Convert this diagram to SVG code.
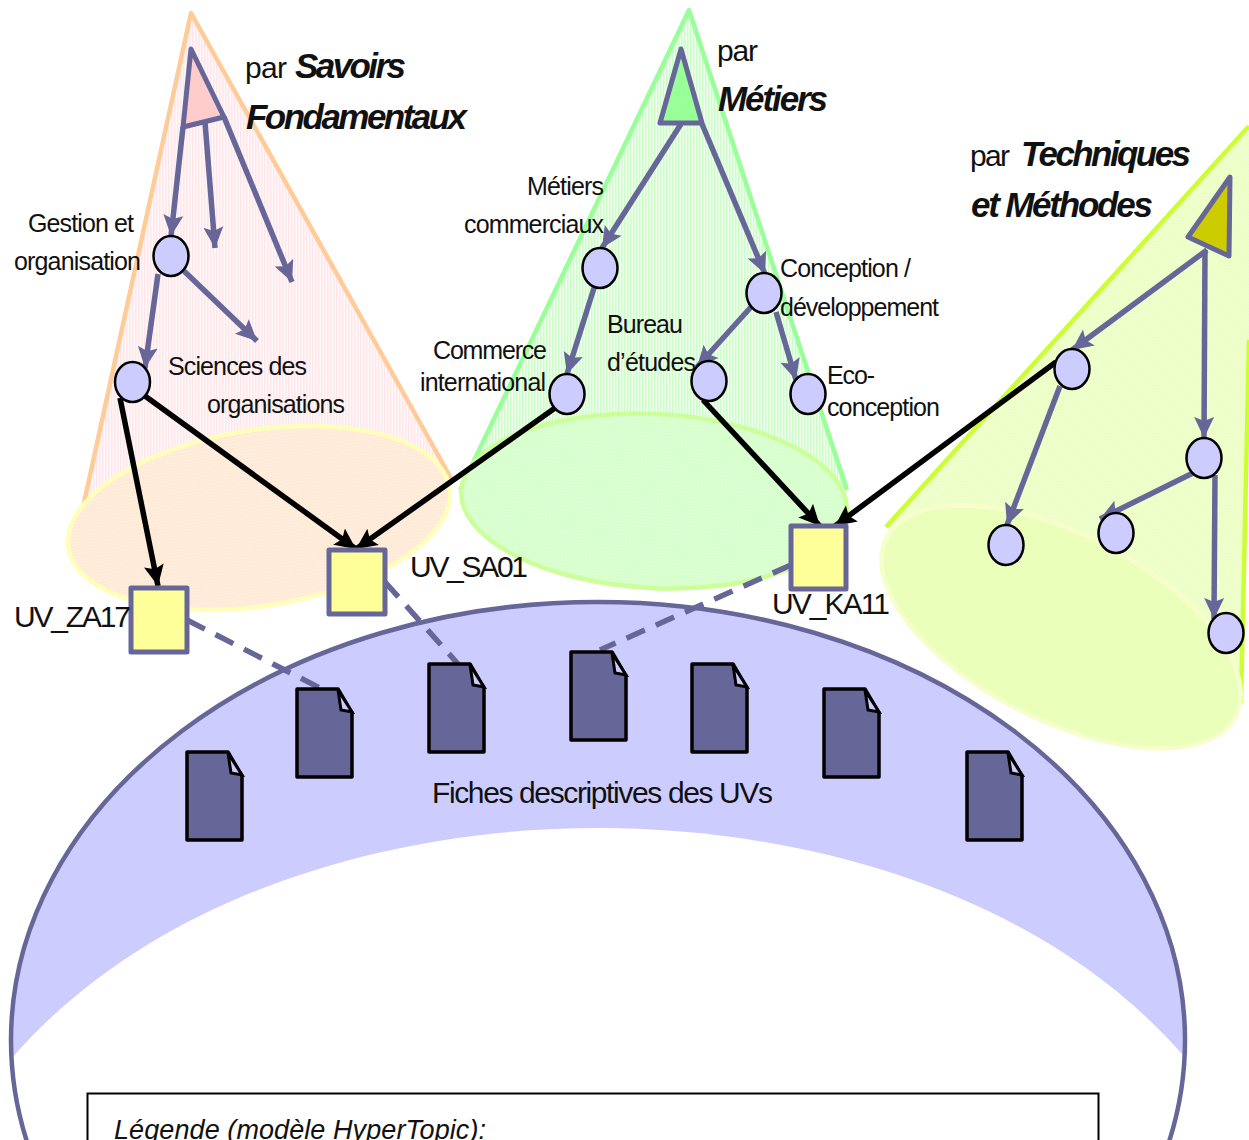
<svg xmlns="http://www.w3.org/2000/svg" width="1249" height="1140" viewBox="0 0 1249 1140">
<style>
text{font-family:"Liberation Sans",Arial,sans-serif;fill:#111}
.t{font-size:25px}
.u{font-size:30px}
.b{font-size:35px;font-weight:bold;font-style:italic}
.n{fill:#ccccff;stroke:#000;stroke-width:2.5}
.tr{stroke:#666699;stroke-width:5;stroke-linejoin:round}
.s{fill:#ffff99;stroke:#666699;stroke-width:5;stroke-linejoin:round}
.p{stroke:#666699;stroke-width:5.5;fill:none;marker-end:url(#ap)}
.k{stroke:#000;stroke-width:5.5;fill:none;marker-end:url(#ak)}
.d{stroke:#666699;stroke-width:5.5;fill:none;stroke-dasharray:20 12}
.doc{fill:#666699;stroke:#000;stroke-width:3.5;stroke-linejoin:round}
</style>
<defs>
<marker id="ap" markerUnits="userSpaceOnUse" markerWidth="24" markerHeight="24" refX="21" refY="12" orient="auto"><path d="M0 2L21 12L0 22L4 12Z" fill="#666699"/></marker>
<marker id="ak" markerUnits="userSpaceOnUse" markerWidth="24" markerHeight="24" refX="21" refY="12" orient="auto"><path d="M0 2L21 12L0 22L4 12Z" fill="#000"/></marker>
<pattern id="h1" width="3" height="3" patternUnits="userSpaceOnUse"><rect width="3" height="3" fill="#fff8f8"/><rect width="1.5" height="3" fill="#ffe6ea"/></pattern>
<pattern id="h2" width="3" height="3" patternUnits="userSpaceOnUse"><rect width="3" height="3" fill="#f2fff0"/><rect width="1.5" height="3" fill="#ccffc8"/></pattern>
<pattern id="h3" width="3" height="3" patternUnits="userSpaceOnUse"><rect width="3" height="3" fill="#f4ffd8"/><path d="M0 3L3 0" stroke="#e8ffbe" stroke-width="1.4"/></pattern>
<pattern id="e1" width="3" height="3" patternUnits="userSpaceOnUse"><rect width="3" height="3" fill="#ffeedd"/><circle cx="1.5" cy="1.5" r=".8" fill="#ffe3cc"/></pattern>
<pattern id="e2" width="3" height="3" patternUnits="userSpaceOnUse"><rect width="3" height="3" fill="#d6ffcc"/><circle cx="1.5" cy="1.5" r=".8" fill="#e6ffdd"/></pattern>
<pattern id="e3" width="3" height="3" patternUnits="userSpaceOnUse"><rect width="3" height="3" fill="#e8ffb4"/><circle cx="1.5" cy="1.5" r=".8" fill="#f4ffd4"/></pattern>
<clipPath id="oc"><ellipse cx="598" cy="1040" rx="587" ry="438"/></clipPath>
<path id="docp" d="M0 0H41L55 24V88H0Z"/>
</defs>

<g id="cone-savoirs">
<path d="M191 13L82 512L452 480Z" fill="url(#h1)"/>
<path d="M82 512L191 13L452 480" fill="none" stroke="#ffcc99" stroke-width="4.5" stroke-linejoin="round"/>
<ellipse cx="259" cy="518" rx="193" ry="88" transform="rotate(-9 259 518)" fill="url(#e1)" stroke="#ffffbb" stroke-width="4.5"/>
</g>
<g id="cone-metiers">
<path d="M689 10L460 490L847 490Z" fill="url(#h2)"/>
<path d="M460 490L689 10L847 490" fill="none" stroke="#99ff99" stroke-width="4.5" stroke-linejoin="round"/>
<ellipse cx="654" cy="501" rx="193" ry="87" transform="rotate(3 654 501)" fill="url(#e2)" stroke="#ccff99" stroke-width="4.5"/>
</g>
<g id="cone-techniques">
<path d="M886 527L1249 126V340L1241 703L1060 640Z" fill="url(#h3)"/>
<path d="M886 527L1249 126" fill="none" stroke="#ccff33" stroke-width="4.5"/>
<path d="M1241 703L1249 340" fill="none" stroke="#ccff33" stroke-width="4.5"/>
<ellipse cx="1061" cy="627" rx="196" ry="93" transform="rotate(27 1061 627)" fill="url(#e3)" stroke="#f6ffcc" stroke-width="4.5"/>
</g>

<g id="domaine-uv">
<ellipse cx="598" cy="1040" rx="587" ry="438" fill="#ccccff"/>
<path clip-path="url(#oc)" d="M0 1072C140 900 380 828 598 828S1060 900 1197 1072V1140H0Z" fill="#fff"/>
<ellipse cx="598" cy="1040" rx="587" ry="438" fill="none" stroke="#666699" stroke-width="4.5"/>
<text x="432" y="803" class="u" textLength="341" lengthAdjust="spacing">Fiches descriptives des UVs</text>
</g>

<g id="racine-savoirs"><path class="tr" fill="#ffcccc" d="M191 49L183 127L224 117Z"/></g>
<g id="racine-metiers"><path class="tr" fill="#99ff99" d="M681 49L660 123H702Z"/></g>
<g id="racine-techniques"><path class="tr" fill="#cccc00" d="M1230 177L1188 237L1229 256Z"/></g>

<g id="connectors">
<path class="p" d="M183 127L171 236"/>
<path class="p" d="M205 122L215 248"/>
<path class="p" d="M224 117L292 282"/>
<path class="p" d="M158 274L145 368"/>
<path class="p" d="M184 271L257 341"/>
<path class="p" d="M681 124L602 248"/>
<path class="p" d="M702 124L765 274"/>
<path class="p" d="M594 288L567 374"/>
<path class="p" d="M751 307L697 367"/>
<path class="p" d="M776 312L796 380"/>
<path class="p" d="M1207 250L1072 350"/>
<path class="p" d="M1205 250L1204 438"/>
<path class="p" d="M1060 386L1007 525"/>
<path class="p" d="M1195 472L1100 519"/>
<path class="p" d="M1215 475L1214 619"/>
<path class="k" d="M120 398L158 586"/>
<path class="k" d="M145 396L356 549"/>
<path class="k" d="M555 408L356 549"/>
<path class="k" d="M703 400L820 526"/>
<path class="k" d="M1056 362L835 526"/>
<path class="d" d="M187 620L320 688"/>
<path class="d" d="M385 582L458 664"/>
<path class="d" d="M791 565L600 650"/>
</g>

<g id="n-gestion"><ellipse class="n" cx="171" cy="256" rx="17.500" ry="20"/></g>
<g id="n-sciences"><ellipse class="n" cx="132.500" cy="382" rx="17.500" ry="20"/></g>
<g id="n-commerciaux"><ellipse class="n" cx="600" cy="268" rx="17.500" ry="20"/></g>
<g id="n-international"><ellipse class="n" cx="567" cy="394" rx="17.500" ry="20"/></g>
<g id="n-conception"><ellipse class="n" cx="764" cy="293" rx="17.500" ry="20"/></g>
<g id="n-bureau"><ellipse class="n" cx="709" cy="381" rx="17.500" ry="20"/></g>
<g id="n-eco"><ellipse class="n" cx="808" cy="394" rx="17.500" ry="20"/></g>
<g id="n-t1"><ellipse class="n" cx="1072" cy="369" rx="17.500" ry="20"/></g>
<g id="n-t2"><ellipse class="n" cx="1204" cy="458" rx="17.500" ry="20"/></g>
<g id="n-t3"><ellipse class="n" cx="1006" cy="545" rx="17.500" ry="20"/></g>
<g id="n-t4"><ellipse class="n" cx="1116" cy="533" rx="17.500" ry="20"/></g>
<g id="n-t5"><ellipse class="n" cx="1226" cy="633" rx="17.500" ry="20"/></g>

<g id="uv-za17"><rect class="s" x="131" y="588" width="56" height="64"/><text x="14" y="627" class="u" textLength="117" lengthAdjust="spacing">UV_ZA17</text></g>
<g id="uv-sa01"><rect class="s" x="329" y="550" width="56" height="64"/><text x="410" y="577" class="u" textLength="118" lengthAdjust="spacing">UV_SA01</text></g>
<g id="uv-ka11"><rect class="s" x="791" y="526" width="55" height="63"/><text x="772" y="614" class="u" textLength="118" lengthAdjust="spacing">UV_KA11</text></g>

<g id="doc1"><use href="#docp" class="doc" x="187" y="752"/><path d="M228 753L231 773L242 775Z" fill="#ccccff" stroke="#000" stroke-width="3"/></g>
<g id="doc2"><use href="#docp" class="doc" x="297" y="689"/><path d="M338 690L341 710L352 712Z" fill="#ccccff" stroke="#000" stroke-width="3"/></g>
<g id="doc3"><use href="#docp" class="doc" x="429" y="664"/><path d="M470 665L473 685L484 687Z" fill="#ccccff" stroke="#000" stroke-width="3"/></g>
<g id="doc4"><use href="#docp" class="doc" x="571" y="652"/><path d="M612 653L615 673L626 675Z" fill="#ccccff" stroke="#000" stroke-width="3"/></g>
<g id="doc5"><use href="#docp" class="doc" x="692" y="664"/><path d="M733 665L736 685L747 687Z" fill="#ccccff" stroke="#000" stroke-width="3"/></g>
<g id="doc6"><use href="#docp" class="doc" x="824" y="689"/><path d="M865 690L868 710L879 712Z" fill="#ccccff" stroke="#000" stroke-width="3"/></g>
<g id="doc7"><use href="#docp" class="doc" x="967" y="752"/><path d="M1008 753L1011 773L1022 775Z" fill="#ccccff" stroke="#000" stroke-width="3"/></g>

<g id="labels">
<text x="245" y="78" style="font-size:30px" textLength="42" lengthAdjust="spacing">par</text>
<text x="295" y="78" class="b" textLength="111" lengthAdjust="spacing">Savoirs</text>
<text x="246" y="129" class="b" textLength="221" lengthAdjust="spacing">Fondamentaux</text>
<text x="717" y="61" style="font-size:30px" textLength="41" lengthAdjust="spacing">par</text>
<text x="718" y="111" class="b" textLength="110" lengthAdjust="spacing">Métiers</text>
<text x="970" y="166" style="font-size:30px" textLength="40" lengthAdjust="spacing">par</text>
<text x="1021" y="166" class="b" textLength="170" lengthAdjust="spacing">Techniques</text>
<text x="971" y="217" class="b" textLength="182" lengthAdjust="spacing">et Méthodes</text>
<text x="28" y="232" class="t" textLength="106" lengthAdjust="spacing">Gestion et</text>
<text x="14" y="270" class="t" textLength="127" lengthAdjust="spacing">organisation</text>
<text x="168" y="375" class="t" textLength="139" lengthAdjust="spacing">Sciences des</text>
<text x="207" y="413" class="t" textLength="138" lengthAdjust="spacing">organisations</text>
<text x="527" y="195" class="t" textLength="77" lengthAdjust="spacing">Métiers</text>
<text x="464" y="233" class="t" textLength="140" lengthAdjust="spacing">commerciaux</text>
<text x="433" y="359" class="t" textLength="114" lengthAdjust="spacing">Commerce</text>
<text x="420" y="391" class="t" textLength="126" lengthAdjust="spacing">international</text>
<text x="607" y="333" class="t" textLength="76" lengthAdjust="spacing">Bureau</text>
<text x="607" y="371" class="t" textLength="89" lengthAdjust="spacing">d’études</text>
<text x="780" y="277" class="t" textLength="131" lengthAdjust="spacing">Conception /</text>
<text x="780" y="316" class="t" textLength="159" lengthAdjust="spacing">développement</text>
<text x="827" y="384" class="t" textLength="48" lengthAdjust="spacing">Eco-</text>
<text x="827" y="416" class="t" textLength="113" lengthAdjust="spacing">conception</text>
</g>

<g id="legende">
<rect x="87.500" y="1093.500" width="1011" height="80" fill="#fff" stroke="#000" stroke-width="2"/>
<text x="114" y="1139" style="font-size:27px;font-style:italic" textLength="372" lengthAdjust="spacing">Légende (modèle HyperTopic):</text>
</g>
</svg>
